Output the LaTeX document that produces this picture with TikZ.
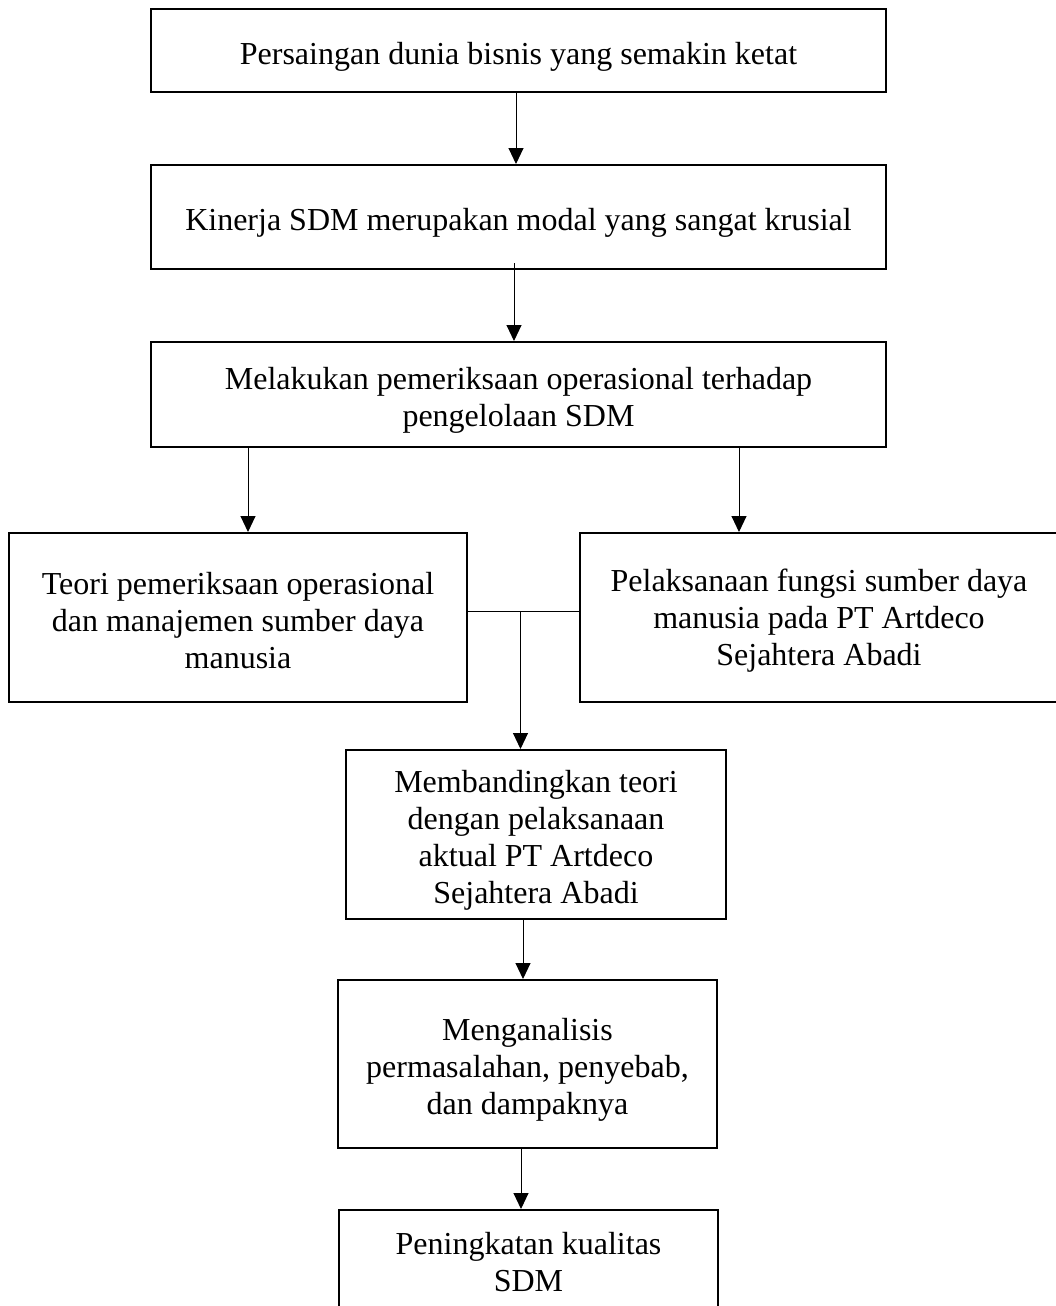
\documentclass[tikz,border=0pt]{standalone}
\usepackage{fontspec}
\setmainfont{Liberation Serif}
\usetikzlibrary{arrows.meta}
\begin{document}
\begin{tikzpicture}[x=1pt,y=-1pt,
  box/.style={draw, line width=2pt, rectangle, inner sep=0pt},
  txt/.style={inner sep=0pt, align=center, font=\fontsize{32}{37}\selectfont},
  arr/.style={line width=1pt, -{Triangle[width=15pt,length=16pt]}},
  conn/.style={line width=1pt}]
\useasboundingbox (0,0) rectangle (1056,1306);
\clip (0,0) rectangle (1056,1306);
\node[box, minimum width=735pt, minimum height=83pt] (b1) at (518.5,50.5) {};
\node[box, minimum width=735pt, minimum height=104pt] (b2) at (518.5,217) {};
\node[box, minimum width=735pt, minimum height=105pt] (b3) at (518.5,394.5) {};
\node[box, minimum width=458pt, minimum height=169pt] (b4) at (238,617.5) {};
\node[box, minimum width=478pt, minimum height=169pt] (b5) at (819,617.5) {};
\node[box, minimum width=380pt, minimum height=169pt] (b6) at (536,834.5) {};
\node[box, minimum width=379pt, minimum height=168pt] (b7) at (527.5,1064) {};
\node[box, minimum width=379pt, minimum height=104pt, anchor=north] (b8) at (528.5,1209) {};
\node[txt] (t1) at ([yshift=-6pt]b1.center) {Persaingan dunia bisnis yang semakin ketat};
\node[txt] (t2) at ([yshift=-6pt]b2.center) {Kinerja SDM merupakan modal yang sangat krusial};
\node[txt] (t3) at ([yshift=-6pt]b3.center) {Melakukan pemeriksaan operasional terhadap\\pengelolaan SDM};
\node[txt] (t4) at ([yshift=-3pt]b4.center) {Teori pemeriksaan operasional\\dan manajemen sumber daya\\manusia};
\node[txt] (t5) at ([yshift=-3pt]b5.center) {Pelaksanaan fungsi sumber daya\\manusia pada PT Artdeco\\Sejahtera Abadi};
\node[txt] (t6) at ([yshift=-6pt]b6.center) {Membandingkan teori\\dengan pelaksanaan\\aktual PT Artdeco\\Sejahtera Abadi};
\node[txt] (t7) at ([yshift=-6pt]b7.center) {Menganalisis\\permasalahan, penyebab,\\dan dampaknya};
\node[txt] (t8) at (b8.center) {Peningkatan kualitas\\SDM};
\coordinate (xa) at (516,0);
\coordinate (xb) at (514,0);
\coordinate (xl) at (248,0);
\coordinate (xr) at (739,0);
\coordinate (j) at (520.5,611);
\coordinate (xc) at (523,0);
\coordinate (xd) at (521,0);
\draw[arr] (b1.south -| xa) -- (b2.north -| xa);
\draw[arr] ([yshift=7pt]b2.south -| xb) -- (b3.north -| xb);
\draw[arr] (b3.south -| xl) -- (b4.north -| xl);
\draw[arr] (b3.south -| xr) -- (b5.north -| xr);
\draw[conn] (b4.east |- j) -- (b5.west |- j);
\draw[arr] (j) -- (b6.north -| j);
\draw[arr] (b6.south -| xc) -- (b7.north -| xc);
\draw[arr] (b7.south -| xd) -- (b8.north -| xd);
\end{tikzpicture}
\end{document}
